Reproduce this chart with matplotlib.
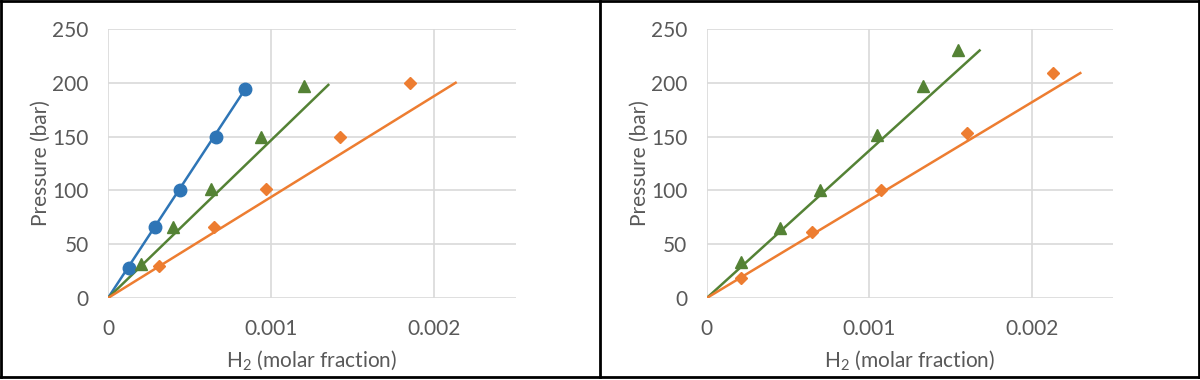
import matplotlib
matplotlib.use('Agg')
import matplotlib.pyplot as plt
from matplotlib.lines import Line2D

plt.rcParams['font.family'] = ['Lato', 'DejaVu Sans']

# left panel: measured points
left_blue_x = [0.00013, 0.00029, 0.00044, 0.00066, 0.00084]
left_blue_y = [28, 66, 100, 150, 194]
left_green_x = [0.00020, 0.00040, 0.00063, 0.00094, 0.00120]
left_green_y = [32, 66, 101, 150, 197]
left_orange_x = [0.00031, 0.00065, 0.00097, 0.00142, 0.00185]
left_orange_y = [30, 66, 101, 150, 200]

# left panel: trend lines (start, end)
left_blue_fit_x = [0, 0.00084]
left_blue_fit_y = [0, 194]
left_green_fit_x = [0, 0.00135]
left_green_fit_y = [0, 198]
left_orange_fit_x = [0, 0.00213]
left_orange_fit_y = [0, 200]

# right panel
right_green_x = [0.00021, 0.00045, 0.00070, 0.00105, 0.00133, 0.00155]
right_green_y = [33, 65, 100, 151, 197, 230]
right_orange_x = [0.00021, 0.00065, 0.00107, 0.00160, 0.00213]
right_orange_y = [19, 61, 100, 153, 209]
right_green_fit_x = [0, 0.00168]
right_green_fit_y = [0, 230]
right_orange_fit_x = [0, 0.00230]
right_orange_fit_y = [0, 209]

xticks = [0, 0.001, 0.002]
xtick_labels = ['0', '0.001', '0.002']
yticks = [0, 50, 100, 150, 200, 250]

blue = '#2E75B6'
green = '#548235'
orange = '#ED7D31'
txt = '#595959'
fs = 15

fig = plt.figure(figsize=(12, 3.8), dpi=100)
ax1 = fig.add_axes([0.090, 0.2158, 0.340, 0.708])
ax2 = fig.add_axes([0.589, 0.2158, 0.3383, 0.708])


def style(ax):
    ax.set_xlim(0, 0.0025)
    ax.set_ylim(0, 250)
    ax.set_xticks(xticks)
    ax.set_xticklabels(xtick_labels)
    ax.set_yticks(yticks)
    for s in ax.spines.values():
        s.set_visible(False)
    ax.grid(True, color='#d9d9d9', linewidth=1.2)
    ax.set_axisbelow(True)
    ax.tick_params(axis='both', length=0, labelsize=fs, labelcolor=txt)
    ax.tick_params(axis='x', pad=15)
    ax.tick_params(axis='y', pad=14)
    ax.set_xlabel('H$_\\mathregular{2}$ (molar fraction)', fontsize=fs, color=txt, labelpad=7)
    ax.set_ylabel('Pressure (bar)', fontsize=fs, color=txt, labelpad=1)


style(ax1)
style(ax2)

ax1.plot(left_blue_fit_x, left_blue_fit_y, color=blue, lw=1.8)
ax1.plot(left_green_fit_x, left_green_fit_y, color=green, lw=1.8)
ax1.plot(left_orange_fit_x, left_orange_fit_y, color=orange, lw=1.8)
ax1.plot(left_blue_x, left_blue_y, 'o', color=blue, ms=9, clip_on=False)
ax1.plot(left_green_x, left_green_y, '^', color=green, ms=8.5, clip_on=False)
ax1.plot(left_orange_x, left_orange_y, 'D', color=orange, ms=6.5, clip_on=False)

ax2.plot(right_green_fit_x, right_green_fit_y, color=green, lw=1.8)
ax2.plot(right_orange_fit_x, right_orange_fit_y, color=orange, lw=1.8)
ax2.plot(right_green_x, right_green_y, '^', color=green, ms=8.5, clip_on=False)
ax2.plot(right_orange_x, right_orange_y, 'D', color=orange, ms=6.5, clip_on=False)

# panel frames
frame_kw = dict(color='black', lw=2, transform=fig.transFigure)
fig.add_artist(Line2D([0.001, 0.999], [0.997, 0.997], **frame_kw))
fig.add_artist(Line2D([0.001, 0.999], [0.009, 0.009], **frame_kw))
fig.add_artist(Line2D([0.001, 0.001], [0.009, 0.997], **frame_kw))
fig.add_artist(Line2D([0.999, 0.999], [0.009, 0.997], **frame_kw))
fig.add_artist(Line2D([0.5, 0.5], [0.009, 0.997], **frame_kw))

fig.savefig('out.png', dpi=100)
